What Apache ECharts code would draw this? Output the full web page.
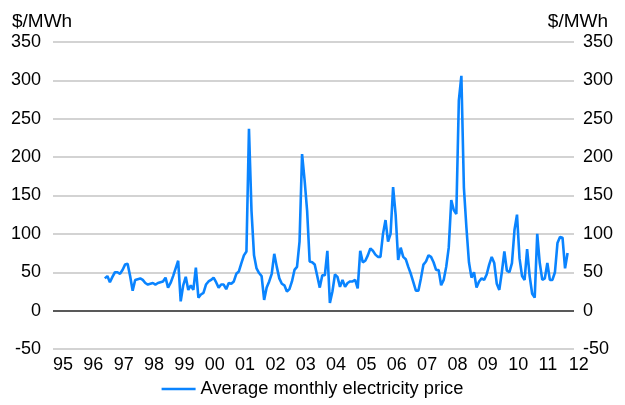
<!DOCTYPE html>
<html>
<head>
<meta charset="utf-8">
<script src="https://cdn.jsdelivr.net/npm/echarts@6/dist/echarts.min.js"></script>
<style>
  html, body { margin: 0; padding: 0; background: #fff; }
  #chart { width: 625px; height: 405px; }
</style>
</head>
<body>
<div id="chart"></div>
<script>
// monthly average electricity price, $/MWh (series starts Sep 1996)
const startYear = 1996;
const startMonth = 9;
const p1996 = [42, 45, 37, 44];
const p1997 = [50, 50, 48, 53, 60, 61, 45, 26, 40, 41, 42, 40];
const p1998 = [36, 34, 35, 36, 34, 36, 37, 38, 43, 30, 36, 45];
const p1999 = [55, 65, 12, 33, 44, 27, 33, 27, 56, 17, 21, 23];
const p2000 = [34, 38, 40, 43, 37, 30, 34, 34, 28, 36, 35, 38];
const p2001 = [48, 51, 62, 72, 77, 237, 130, 72, 55, 49, 45, 14];
const p2002 = [30, 38, 48, 74, 57, 42, 35, 33, 25, 28, 38, 53];
const p2003 = [57, 90, 204, 170, 130, 64, 63, 60, 45, 30, 46, 46];
const p2004 = [78, 10, 25, 47, 44, 31, 40, 31, 36, 38, 38, 40];
const p2005 = [29, 78, 63, 65, 72, 81, 78, 73, 70, 70, 100, 118];
const p2006 = [90, 100, 161, 125, 66, 82, 70, 67, 57, 48, 37, 26];
const p2007 = [26, 42, 60, 64, 72, 70, 63, 53, 53, 33, 40, 57];
const p2008 = [82, 144, 131, 126, 274, 306, 160, 108, 63, 43, 50, 30];
const p2009 = [38, 42, 40, 47, 60, 70, 62, 35, 27, 50, 77, 52];
const p2010 = [50, 62, 105, 125, 68, 45, 40, 80, 45, 22, 17, 100];
const p2011 = [62, 40, 42, 62, 40, 40, 50, 88, 96, 95, 55, 75];

const yearLabels = ['95', '96', '97', '98', '99', '00', '01', '02', '03', '04', '05', '06', '07', '08', '09', '10', '11', '12'];
const seriesName = 'Average monthly electricity price';

const prices = [].concat(p1996, p1997, p1998, p1999, p2000, p2001, p2002, p2003,
  p2004, p2005, p2006, p2007, p2008, p2009, p2010, p2011);

// x = fractional year, each month plotted at its middle
const data = prices.map((v, i) => {
  const m = startMonth - 1 + i;
  return [startYear + (m + 0.5) / 12, v];
});

const font = '"Liberation Sans", Arial, sans-serif';
const textStyle = { color: '#000', fontFamily: font, fontSize: 18 };

const chart = echarts.init(document.getElementById('chart'), null, { renderer: 'canvas' });

const yAxisBase = {
  type: 'value',
  min: -50,
  max: 350,
  interval: 50,
  axisLine: { show: false },
  axisTick: { show: false }
};

chart.setOption({
  animation: false,
  title: [
    { text: '$/MWh', left: 7, top: 7, textStyle: Object.assign({}, textStyle, { fontWeight: 'normal', fontSize: 19 }) },
    { text: '$/MWh', right: 12, top: 7, textStyle: Object.assign({}, textStyle, { fontWeight: 'normal', fontSize: 19 }) }
  ],
  grid: { left: 53, right: 51, top: 42, bottom: 56, containLabel: false },
  xAxis: {
    type: 'value',
    min: 1995,
    max: 2012.17,
    interval: 1,
    axisLine: { show: false },
    axisTick: { show: false },
    splitLine: { show: false },
    axisLabel: Object.assign({}, textStyle, {
      align: 'left',
      margin: 7,
      showMaxLabel: false,
      formatter: v => {
        const i = Math.round(v - 1995);
        return Math.abs(v - 1995 - i) < 1e-6 ? (yearLabels[i] || '') : '';
      }
    })
  },
  yAxis: [
    Object.assign({}, yAxisBase, {
      position: 'left',
      axisLabel: Object.assign({}, textStyle, { margin: 12 }),
      splitLine: { show: true, lineStyle: { color: '#c4c4c4', width: 1.5 } }
    }),
    Object.assign({}, yAxisBase, {
      position: 'right',
      axisLabel: Object.assign({}, textStyle, { margin: 9 }),
      splitLine: { show: false }
    })
  ],
  legend: {
    bottom: 2,
    left: 'center',
    icon: 'rect',
    itemWidth: 34,
    itemHeight: 2.5,
    itemGap: 10,
    textStyle: Object.assign({}, textStyle, { fontSize: 18.3 }),
    data: [seriesName]
  },
  series: [{
    name: seriesName,
    type: 'line',
    data: data,
    showSymbol: false,
    symbol: 'none',
    lineStyle: { color: '#0a84ff', width: 2.6 },
    itemStyle: { color: '#0a84ff' },
    markLine: {
      silent: true,
      symbol: 'none',
      label: { show: false },
      lineStyle: { color: '#595959', width: 2, type: 'solid' },
      data: [{ yAxis: 0 }]
    }
  }]
});
</script>
</body>
</html>
